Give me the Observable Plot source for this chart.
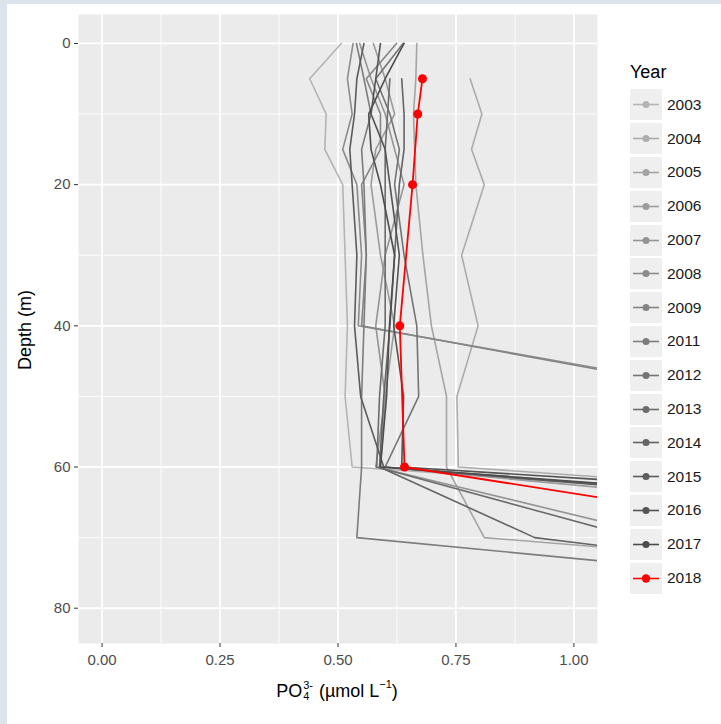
<!DOCTYPE html>
<html>
<head>
<meta charset="utf-8">
<script src="https://cdn.jsdelivr.net/npm/d3@7"></script>
<script src="https://cdn.jsdelivr.net/npm/@observablehq/plot@0.6"></script>
<style>
  html, body { margin: 0; padding: 0; }
  body { width: 721px; height: 724px; background: #dde3ec; position: relative; overflow: hidden;
         font-family: "Liberation Sans", Arial, Helvetica, sans-serif; }
  #card { position: absolute; left: 7px; top: 4px; width: 714px; height: 720px; background: #ffffff; }
  #chart { position: absolute; left: 0; top: 0; }
  #ytitle { position: absolute; left: 25px; top: 330px; transform: translate(-50%, -50%) rotate(-90deg);
            font-size: 18px; color: #000; white-space: nowrap; }
  #xtitle { position: absolute; left: 337px; top: 691px; transform: translate(-50%, -50%);
            font-size: 18px; color: #000; white-space: nowrap; display: flex; align-items: center; }
  .stack { display: inline-flex; flex-direction: column; font-size: 11px; line-height: 11px; margin: 0 1px; }
  .sup { font-size: 11px; position: relative; top: -7px; }
  #legend { position: absolute; left: 630px; top: 58px; }
  #legend .title { font-size: 18px; color: #000; height: 30px; line-height: 28px; }
  #legend .row { display: flex; align-items: center; height: 33.8px; }
  #legend .key { width: 32px; height: 31px; background: #efefef; }
  #legend .lab { margin-left: 5px; font-size: 15.5px; color: #1a1a1a; }
</style>
</head>
<body>
<div id="card"></div>
<div id="chart"></div>
<div id="ytitle">Depth (m)</div>
<div id="xtitle">PO<span class="stack"><span>3-</span><span>4</span></span>&nbsp;(µmol L<span class="sup">−1</span>)</div>
<div id="legend"></div>
<script>
// ---- data ----
const depths = [0, 5, 10, 15, 20, 30, 40, 50, 60, 70, 80];
const years = [2003, 2004, 2005, 2006, 2007, 2008, 2009, 2011, 2012, 2013, 2014, 2015, 2016, 2017, 2018];
const po4_2003 = [0.507, 0.44, 0.475, 0.472, 0.51, 0.515, 0.52, 0.515, 0.53, 2.7, null];
const po4_2004 = [null, 0.78, 0.805, 0.783, 0.81, 0.762, 0.797, 0.752, 0.755, 2.9, null];
const po4_2005 = [0.667, 0.665, 0.66, null, 0.665, 0.68, 0.698, 0.73, 0.73, 0.81, 2.66];
const po4_2006 = [0.575, 0.60, 0.62, 0.58, 0.57, 0.59, 0.62, 0.60, 0.59, 2.2, null];
const po4_2007 = [0.546, 0.57, 0.60, 0.62, 0.64, 0.60, 0.58, 0.60, 0.58, 1.2, null];
const po4_2008 = [0.532, 0.52, 0.53, 0.51, 0.54, 0.55, 0.543, 1.39, null, null, null];
const po4_2009 = [0.624, 0.56, 0.59, 0.59, 0.55, 0.56, 0.55, 1.36, null, null, null];
const po4_2011 = [0.539, 0.555, 0.57, 0.55, 0.555, 0.56, 0.555, 0.55, 0.55, 0.54, 2.1];
const po4_2012 = [0.638, 0.58, 0.61, 0.63, 0.62, 0.64, 0.667, 0.671, 0.60, 2.5, null];
const po4_2013 = [null, 0.61, 0.605, 0.60, 0.60, 0.60, 0.60, 0.588, 0.582, 1.13, null];
const po4_2014 = [null, 0.635, 0.64, 0.64, 0.63, 0.62, 0.61, 0.597, 0.588, 0.917, 2.13];
const po4_2015 = [0.555, 0.54, 0.535, 0.525, 0.53, 0.54, 0.535, 0.548, 0.597, 2.4, null];
const po4_2016 = [0.59, 0.58, 0.57, 0.60, 0.61, 0.63, 0.618, 0.639, 0.635, 3.0, null];
const po4_2017 = [0.64, 0.60, 0.565, 0.57, 0.59, 0.62, 0.609, 0.603, 0.59, 2.6, null];
const po4_2018 = [null, 0.679, 0.669, null, 0.658, null, 0.631, null, 0.641, 1.6, null];
const lineColors = ["#b4b4b4", "#acacac", "#a4a4a4", "#9c9c9c", "#949494", "#8c8c8c", "#848484",
                    "#7c7c7c", "#747474", "#6c6c6c", "#646464", "#5c5c5c", "#545454", "#4c4c4c", "#ff0000"];
const xTicks = [0, 0.25, 0.5, 0.75, 1];
const xMinor = [0.125, 0.375, 0.625, 0.875];
const yTicks = [0, 20, 40, 60, 80];
const yMinor = [10, 30, 50, 70];
const highlightYear = 2018;

// ---- build long table ----
const seriesByYear = {
  2003: po4_2003, 2004: po4_2004, 2005: po4_2005, 2006: po4_2006, 2007: po4_2007,
  2008: po4_2008, 2009: po4_2009, 2011: po4_2011, 2012: po4_2012, 2013: po4_2013,
  2014: po4_2014, 2015: po4_2015, 2016: po4_2016, 2017: po4_2017, 2018: po4_2018
};
const rows = [];
for (const yr of years) {
  seriesByYear[yr].forEach((v, i) => {
    if (v != null) rows.push({year: String(yr), depth: depths[i], po4: v});
  });
}
const greyRows = rows.filter(d => d.year !== String(highlightYear));
const redRows = rows.filter(d => d.year === String(highlightYear));
const redDots = redRows.filter(d => d.po4 <= 1.05);

const chart = Plot.plot({
  width: 600,
  height: 724,
  marginLeft: 78,
  marginRight: 3,
  marginTop: 14,
  marginBottom: 81,
  style: {background: "transparent", fontFamily: "'Liberation Sans', Arial, sans-serif", fontSize: "15px", color: "#4d4d4d"},
  x: {domain: [-0.05, 1.05]},
  y: {domain: [-4.1, 85], reverse: true},
  color: {domain: years.map(String), range: lineColors},
  marks: [
    Plot.frame({fill: "#ebebeb", stroke: null}),
    Plot.ruleX(xMinor, {stroke: "#ffffff", strokeWidth: 0.9}),
    Plot.ruleY(yMinor, {stroke: "#ffffff", strokeWidth: 0.9}),
    Plot.ruleX(xTicks, {stroke: "#ffffff", strokeWidth: 1.8}),
    Plot.ruleY(yTicks, {stroke: "#ffffff", strokeWidth: 1.8}),
    Plot.line(greyRows, {x: "po4", y: "depth", z: "year", stroke: "year", strokeWidth: 1.6, clip: true}),
    Plot.line(redRows, {x: "po4", y: "depth", stroke: "#ff0000", strokeWidth: 1.8, clip: true}),
    Plot.dot(redDots, {x: "po4", y: "depth", fill: "#ff0000", r: 4.5, clip: true}),
    Plot.axisX({ticks: xTicks, tickFormat: d3.format(".2f"), tickSize: 4, tickPadding: 7, label: null, stroke: "#333333", fontSize: 15}),
    Plot.axisY({ticks: yTicks, tickSize: 4, tickPadding: 4, label: null, stroke: "#333333", fontSize: 15})
  ]
});
document.getElementById("chart").appendChild(chart);

// ---- legend ----
const legend = document.getElementById("legend");
const t = document.createElement("div");
t.className = "title";
t.textContent = "Year";
legend.appendChild(t);
years.forEach((yr, i) => {
  const row = document.createElement("div");
  row.className = "row";
  const col = lineColors[i];
  row.innerHTML = `<div class="key"><svg width="32" height="31"><line x1="3" x2="29" y1="15.5" y2="15.5" stroke="${col}" stroke-width="1.6"/><circle cx="16" cy="15.5" r="${yr === highlightYear ? 4.2 : 3.5}" fill="${col}"/></svg></div><div class="lab">${yr}</div>`;
  legend.appendChild(row);
});
</script>
</body>
</html>
